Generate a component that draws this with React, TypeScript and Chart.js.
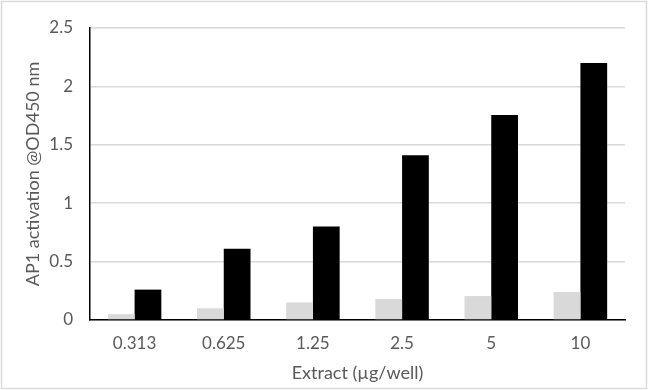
import React, { useEffect, useRef } from "react";
import { Chart, registerables } from "chart.js";

Chart.register(...registerables);

const categories = ["0.313", "0.625", "1.25", "2.5", "5", "10"];
const controlValues = [0.05, 0.1, 0.15, 0.18, 0.205, 0.24];
const treatedValues = [0.26, 0.61, 0.8, 1.41, 1.755, 2.2];
const yTicks = ["0", "0.5", "1", "1.5", "2", "2.5"];
const yTitle = "AP1 activation @OD450 nm";
const xTitle = "Extract (µg/well)";

const FONT = "Lato, 'Open Sans', sans-serif";

const borderPlugin = {
  id: "outerBorder",
  beforeDraw(chart: any) {
    const ctx = chart.ctx;
    ctx.save();
    ctx.fillStyle = "#ffffff";
    ctx.fillRect(0, 0, chart.width, chart.height);
    ctx.strokeStyle = "#d9d9d9";
    ctx.lineWidth = 1.5;
    ctx.strokeRect(1.5, 1.5, 645, 387);
    ctx.restore();
  },
};

export default function App() {
  const ref = useRef<HTMLCanvasElement | null>(null);

  useEffect(() => {
    document.body.style.margin = "0";
    if (!ref.current) return;
    const chart = new Chart(ref.current, {
      type: "bar",
      data: {
        labels: categories,
        datasets: [
          {
            label: "Control",
            data: controlValues,
            backgroundColor: "#d9d9d9",
            categoryPercentage: 0.6,
            barPercentage: 1.0,
          },
          {
            label: "Treated",
            data: treatedValues,
            backgroundColor: "#000000",
            categoryPercentage: 0.6,
            barPercentage: 1.0,
          },
        ],
      },
      options: {
        responsive: false,
        animation: false,
        layout: { padding: { left: 0, right: 25, top: 28, bottom: 0 } },
        plugins: {
          legend: { display: false },
          tooltip: { enabled: false },
        },
        scales: {
          x: {
            grid: { display: false, drawTicks: false },
            border: { display: true, color: "#000000", width: 1.5 },
            ticks: {
              color: "#595959",
              font: { family: FONT, size: 17 },
              padding: 13,
              maxRotation: 0,
            },
            title: {
              display: true,
              text: xTitle,
              color: "#595959",
              font: { family: FONT, size: 18 },
              padding: { top: 0, bottom: 6 },
            },
            afterFit(scale: any) {
              scale.height = 70;
            },
          },
          y: {
            min: 0,
            max: 2.5,
            ticks: {
              stepSize: 0.5,
              color: "#595959",
              font: { family: FONT, size: 17 },
              padding: 17,
              callback: (_v: any, i: number) => yTicks[i],
            },
            grid: { color: "#d9d9d9", drawTicks: false, lineWidth: 1.5 },
            border: { display: true, color: "#000000", width: 1.5 },
            title: {
              display: true,
              text: yTitle,
              color: "#595959",
              font: { family: FONT, size: 18 },
              padding: { top: 22, bottom: 0 },
            },
            afterFit(scale: any) {
              scale.width = 90;
            },
          },
        },
      },
      plugins: [borderPlugin],
    });
    return () => chart.destroy();
  }, []);

  return (
    <div style={{ width: 650, height: 390 }}>
      <canvas ref={ref} width={650} height={390} />
    </div>
  );
}
